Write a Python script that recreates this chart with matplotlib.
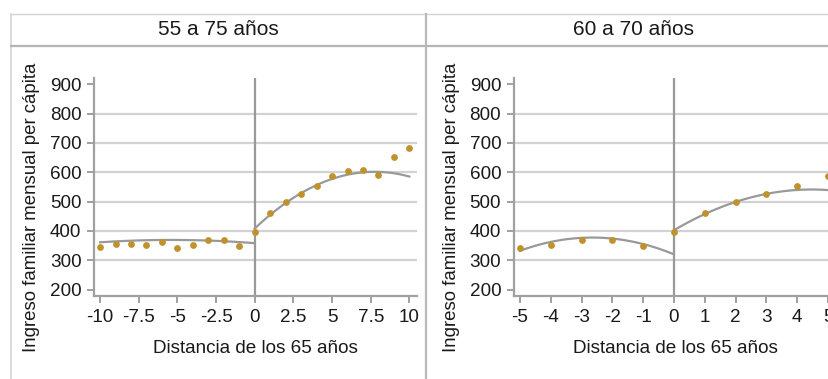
import numpy as np
import matplotlib.pyplot as plt
from matplotlib.lines import Line2D

plt.rcParams['font.family'] = ['Liberation Sans', 'DejaVu Sans']

# Binned means of household income by distance to age 65
distancia = [-10, -9, -8, -7, -6, -5, -4, -3, -2, -1, 0, 1, 2, 3, 4, 5, 6, 7, 8, 9, 10]
ingreso = [345, 355, 355, 352, 363, 343, 353, 368, 370, 349,
           395, 462, 499, 527, 554, 587, 604, 609, 589, 652, 684]

# Quadratic fits on each side of the cutoff (anchor points along each fitted curve)
fit_55_75_izq_x = [-10, -5, 0]
fit_55_75_izq_y = [361, 369, 358]
fit_55_75_der_x = [0, 5, 10]
fit_55_75_der_y = [408, 577, 585]
fit_60_70_izq_x = [-5, -2.5, 0]
fit_60_70_izq_y = [332, 377, 320]
fit_60_70_der_x = [0, 2.5, 5]
fit_60_70_der_y = [402, 514, 539]

titulos = ['55 a 75 años', '60 a 70 años']
xticks_55_75 = [-10, -7.5, -5, -2.5, 0, 2.5, 5, 7.5, 10]
xticklabels_55_75 = ['-10', '-7.5', '-5', '-2.5', '0', '2.5', '5', '7.5', '10']
xticks_60_70 = [-5, -4, -3, -2, -1, 0, 1, 2, 3, 4, 5]
yticks = [200, 300, 400, 500, 600, 700, 800, 900]
grid_y = [300, 400, 500, 600, 700, 800]

W, H = 829, 379
DOT = '#c0922b'
CURVE = '#999999'
AXIS = '#a0a0a0'
GRID = '#d2d2d2'
TXT = '#1a1a1a'


def fx(px):
    return px / W


def fy(py):
    return 1 - py / H


def fitted(ax, xs, ys):
    coef = np.polyfit(xs, ys, 2)
    xx = np.linspace(min(xs), max(xs), 100)
    ax.plot(xx, np.polyval(coef, xx), color=CURVE, lw=1.6, zorder=3)


def panel(ax, x_lo, x_hi, xlim, ticks, labels, fits):
    lo = distancia.index(x_lo)
    hi = distancia.index(x_hi) + 1
    for g in grid_y:
        ax.axhline(g, color=GRID, lw=1.6, zorder=0)
    ax.axvline(0, color=CURVE, lw=1.6, zorder=2)
    for xs, ys in fits:
        fitted(ax, xs, ys)
    ax.scatter(distancia[lo:hi], ingreso[lo:hi], s=24, color=DOT, zorder=4,
               linewidths=0, clip_on=False)
    ax.set_xlim(*xlim)
    ax.set_ylim(178, 921)
    ax.set_xticks(ticks)
    ax.set_xticklabels(labels)
    ax.set_yticks(yticks)
    for s in ['top', 'right']:
        ax.spines[s].set_visible(False)
    for s in ['left', 'bottom']:
        ax.spines[s].set_color(AXIS)
        ax.spines[s].set_linewidth(1.6)
    ax.tick_params(axis='both', colors=AXIS, width=1.4, length=5,
                   labelsize=13.6, labelcolor=TXT, pad=4)
    ax.set_xlabel('Distancia de los 65 años', fontsize=13.6, color=TXT, va='center')
    ax.xaxis.set_label_coords(0.5, -0.243)
    ax.set_ylabel('Ingreso familiar mensual per cápita', fontsize=13.4, color=TXT, va='center')
    ax.yaxis.set_label_coords(-0.194, 0.405)
    ax.patch.set_alpha(0)


fig = plt.figure(figsize=(W / 100, H / 100), dpi=100)

ax_h = (296 - 78) / H
ax_w = 322.7 / W
ax1 = fig.add_axes([fx(94), fy(296), ax_w, ax_h])
ax2 = fig.add_axes([fx(513.7), fy(296), ax_w, ax_h])

panel(ax1, -10, 10, (-10.39, 10.47), xticks_55_75, xticklabels_55_75,
      [(fit_55_75_izq_x, fit_55_75_izq_y), (fit_55_75_der_x, fit_55_75_der_y)])
panel(ax2, -5, 5, (-5.2, 5.27), xticks_60_70, [str(t) for t in xticks_60_70],
      [(fit_60_70_izq_x, fit_60_70_izq_y), (fit_60_70_der_x, fit_60_70_der_y)])

# panel frames and headers
fig.add_artist(Line2D([fx(11), 1], [fy(13.5), fy(13.5)], color='#d4d4d4', lw=1.0))
fig.add_artist(Line2D([fx(11.5), fx(11.5)], [fy(13.5), 0], color='#d4d4d4', lw=1.2))
fig.add_artist(Line2D([fx(11), 1], [fy(46), fy(46)], color='#b4b4b4', lw=1.6))
fig.add_artist(Line2D([fx(426.5), fx(426.5)], [fy(13.5), 0], color='#bababa', lw=1.6))

fig.text(fx(218.5), fy(29.5), titulos[0], fontsize=15, ha='center', va='center', color=TXT)
fig.text(fx(633.5), fy(29.5), titulos[1], fontsize=15, ha='center', va='center', color=TXT)

fig.savefig('out.png', dpi=100)
